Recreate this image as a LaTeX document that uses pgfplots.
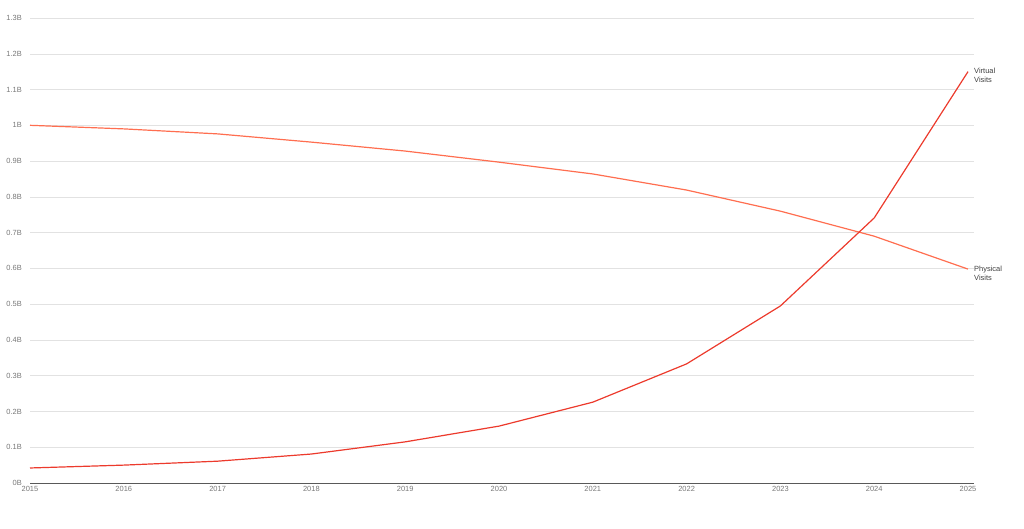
\documentclass[border=0pt]{standalone}
\usepackage{fontspec}
\setmainfont{Liberation Sans}
\usepackage{pgfplots}
\pgfplotsset{compat=1.18}
\definecolor{virt}{HTML}{EC3A2C}
\definecolor{phys}{HTML}{FF6E50}
\definecolor{gridc}{HTML}{E2E2E2}
\definecolor{tickc}{HTML}{777777}
\begin{document}
\begin{tikzpicture}[x=1bp,y=1bp]
\begin{axis}[
  scale only axis,
  width=944bp, height=465bp,
  xmin=2015, xmax=2025.064,
  ymin=0, ymax=1.3,
  axis lines=none,
  ymajorgrids=false,
  clip=false,
  /pgf/number format/assume math mode=true,
]
% grid lines
\foreach \v in {0.1,0.2,...,1.31} {
  \edef\tmp{\noexpand\draw[gridc, line width=0.6bp] (axis cs:2015,\v) -- (axis cs:2025.064,\v);}
  \tmp
}
\draw[black!65, line width=1bp] (axis cs:2015,0) -- (axis cs:2025.064,0);
% y tick labels
\foreach \v/\l in {0/0B,0.1/0.1B,0.2/0.2B,0.3/0.3B,0.4/0.4B,0.5/0.5B,0.6/0.6B,0.7/0.7B,0.8/0.8B,0.9/0.9B,1/1B,1.1/1.1B,1.2/1.2B,1.3/1.3B} {
  \edef\tmp{\noexpand\node[anchor=east, font=\noexpand\fontsize{7.5}{8}\noexpand\selectfont, text=tickc, inner sep=0pt] at ([xshift=-8bp]axis cs:2015,\v) {\l};}
  \tmp
}
% x tick labels
\foreach \x in {2015,2016,...,2025} {
  \edef\tmp{\noexpand\node[anchor=north, font=\noexpand\fontsize{7.5}{8}\noexpand\selectfont, text=tickc, inner sep=0pt] at ([yshift=-3.5bp]axis cs:\x,0) {\x};}
  \tmp
}
\addplot[phys, line width=1.2bp, mark=none] coordinates {
(2015,1.000) (2016,0.990) (2017,0.976) (2018,0.953) (2019,0.928) (2020,0.897)
(2021,0.864) (2022,0.819) (2023,0.760) (2024,0.690) (2025,0.598)};
\addplot[virt, line width=1.2bp, mark=none] coordinates {
(2015,0.042) (2016,0.050) (2017,0.061) (2018,0.081) (2019,0.115) (2020,0.159)
(2021,0.226) (2022,0.333) (2023,0.495) (2024,0.741) (2025,1.150)};
\node[anchor=north west, align=left, font=\fontsize{7.5}{9}\selectfont, text=black!75, inner sep=0pt] at ([xshift=6bp,yshift=3.5bp]axis cs:2025,1.150) {Virtual\\Visits};
\node[anchor=north west, align=left, font=\fontsize{7.5}{9}\selectfont, text=black!75, inner sep=0pt] at ([xshift=6bp,yshift=3.5bp]axis cs:2025,0.598) {Physical\\Visits};
\end{axis}
\path[use as bounding box] (current axis.south west)+(-30bp,-46bp) rectangle ([xshift=50bp,yshift=18bp]current axis.north east);
\end{tikzpicture}
\end{document}
